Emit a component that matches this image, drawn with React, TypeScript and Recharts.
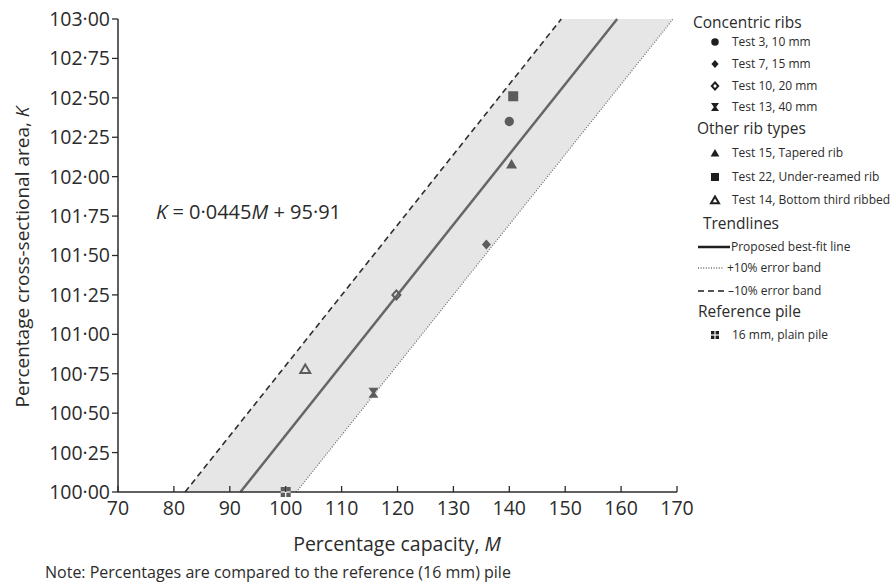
import React from "react";
import { Area, ComposedChart, Line, Scatter, XAxis, YAxis } from "recharts";

const FONT = "'Open Sans', 'Noto Sans', sans-serif";
const INK = "#2b2b2b";
const MARK = "#5c5c5c";

const xTicks = [70, 80, 90, 100, 110, 120, 130, 140, 150, 160, 170];
const yTicks = [100, 100.25, 100.5, 100.75, 101, 101.25, 101.5, 101.75, 102, 102.25, 102.5, 102.75, 103];

// shaded error band, corners
const bandM = [82, 101.9, 149.3, 169.3];
const bandLow = [100, 100, 102.11, 103];
const bandHigh = [100, 100.89, 103, 103];

// trendline end points (M, K)
const bestFit = [{ M: 91.9, K: 100 }, { M: 159.3, K: 103 }];
const minusBand = [{ M: 82, K: 100 }, { M: 149.3, K: 103 }];
const plusBand = [{ M: 101.9, K: 100 }, { M: 169.3, K: 103 }];

// test results
const test3 = [{ M: 140.0, K: 102.35 }];
const test7 = [{ M: 135.9, K: 101.57 }];
const test10 = [{ M: 119.8, K: 101.25 }];
const test13 = [{ M: 115.7, K: 100.63 }];
const test15 = [{ M: 140.4, K: 102.08 }];
const test22 = [{ M: 140.7, K: 102.51 }];
const test14 = [{ M: 103.5, K: 100.78 }];
const refPile = [{ M: 100, K: 100 }];

const bandData = bandM.map((M, i) => ({ M, band: [bandLow[i], bandHigh[i]] }));

type Kind = "circle" | "diamond" | "openDiamond" | "hourglass" | "triangle" | "square" | "openTriangle" | "plusSquare";

function Marker({ kind, cx, cy, color = MARK, s = 1 }: { kind: Kind; cx: number; cy: number; color?: string; s?: number }) {
  switch (kind) {
    case "circle":
      return <circle cx={cx} cy={cy} r={4.7 * s} fill={color} />;
    case "diamond":
      return <path d={`M${cx},${cy - 5 * s}L${cx + 4.5 * s},${cy}L${cx},${cy + 5 * s}L${cx - 4.5 * s},${cy}Z`} fill={color} />;
    case "openDiamond":
      return <path d={`M${cx},${cy - 4.5 * s}L${cx + 4 * s},${cy}L${cx},${cy + 4.5 * s}L${cx - 4 * s},${cy}Z`} fill="none" stroke={color} strokeWidth={2} />;
    case "hourglass":
      return (
        <path
          d={`M${cx - 5 * s},${cy - 5 * s}H${cx + 5 * s}L${cx + 1.5 * s},${cy}L${cx + 5 * s},${cy + 5 * s}H${cx - 5 * s}L${cx - 1.5 * s},${cy}Z`}
          fill={color}
        />
      );
    case "triangle":
      return <path d={`M${cx},${cy - 5 * s}L${cx + 5.5 * s},${cy + 4.5 * s}L${cx - 5.5 * s},${cy + 4.5 * s}Z`} fill={color} />;
    case "openTriangle":
      return <path d={`M${cx},${cy - 4.5 * s}L${cx + 5 * s},${cy + 4 * s}L${cx - 5 * s},${cy + 4 * s}Z`} fill="none" stroke={color} strokeWidth={2} />;
    case "square":
      return <rect x={cx - 5 * s} y={cy - 5 * s} width={10 * s} height={10 * s} fill={color} />;
    case "plusSquare":
      return (
        <g>
          <rect x={cx - 5 * s} y={cy - 5 * s} width={10 * s} height={10 * s} fill={color} />
          <line x1={cx} x2={cx} y1={cy - 5 * s} y2={cy + 5 * s} stroke="#fff" strokeWidth={1.2} />
          <line x1={cx - 5 * s} x2={cx + 5 * s} y1={cy} y2={cy} stroke="#fff" strokeWidth={1.2} />
        </g>
      );
  }
  return null;
}

const shapeOf = (kind: Kind) => (p: any) => <Marker kind={kind} cx={p.cx} cy={p.cy} />;

const XTick = ({ x, y, payload }: any) => (
  <g>
    <line x1={x} x2={x} y1={y} y2={y - 6} stroke={INK} strokeWidth={1.3} />
    <text x={x} y={y + 23} textAnchor="middle" fontSize={19.5} fill={INK} fontFamily={FONT}>
      {payload.value}
    </text>
  </g>
);

const fmtK = (v: number) => v.toFixed(2).replace(".", "·");

const headers = [
  { text: "Concentric ribs", x: 693, y: 28 },
  { text: "Other rib types", x: 697, y: 134 },
  { text: "Trendlines", x: 703, y: 229 },
  { text: "Reference pile", x: 698, y: 317 },
];

const markerItems: { text: string; kind: Kind; y: number }[] = [
  { text: "Test 3, 10 mm", kind: "circle", y: 42 },
  { text: "Test 7, 15 mm", kind: "diamond", y: 64 },
  { text: "Test 10, 20 mm", kind: "openDiamond", y: 86 },
  { text: "Test 13, 40 mm", kind: "hourglass", y: 107 },
  { text: "Test 15, Tapered rib", kind: "triangle", y: 153 },
  { text: "Test 22, Under-reamed rib", kind: "square", y: 177 },
  { text: "Test 14, Bottom third ribbed", kind: "openTriangle", y: 200 },
  { text: "16 mm, plain pile", kind: "plusSquare", y: 335 },
];

const lineItems = [
  { text: "Proposed best-fit line", y: 247, x2: 730, tx: 731, dash: undefined as string | undefined, w: 2.5 },
  { text: "+10% error band", y: 268, x2: 723, tx: 727, dash: "1 1.6", w: 1.2 },
  { text: "–10% error band", y: 291, x2: 727, tx: 728, dash: "6 4", w: 1.6 },
];

export default function App() {
  return (
    <div style={{ position: "absolute", left: 0, top: 0, width: 892, height: 586, background: "#fff", fontFamily: FONT }}>
      <ComposedChart width={892} height={586} data={bandData} margin={{ top: 19, right: 215, bottom: 64, left: 0 }}>
        <XAxis
          dataKey="M"
          type="number"
          domain={[70, 170]}
          ticks={xTicks}
          interval={0}
          height={30}
          tickSize={0}
          tickMargin={0}
          tickLine={false}
          axisLine={{ stroke: INK, strokeWidth: 1.5 }}
          tick={<XTick />}
        />
        <YAxis
          type="number"
          domain={[100, 103]}
          ticks={yTicks}
          interval={0}
          width={118}
          tickSize={6}
          tickMargin={2}
          tickFormatter={fmtK}
          tick={{ fill: INK, fontSize: 19.5, fontFamily: FONT }}
          tickLine={{ stroke: INK, strokeWidth: 1.3 }}
          axisLine={{ stroke: INK, strokeWidth: 1.5 }}
        />
        <Area dataKey="band" type="linear" fill="#e6e6e7" fillOpacity={1} stroke="none" dot={false} activeDot={false} isAnimationActive={false} />
        <Line data={minusBand} dataKey="K" type="linear" stroke="#2e2e2e" strokeWidth={1.6} strokeDasharray="6 4" dot={false} activeDot={false} isAnimationActive={false} />
        <Line data={plusBand} dataKey="K" type="linear" stroke="#6a6a6a" strokeWidth={1.2} strokeDasharray="1 1.6" dot={false} activeDot={false} isAnimationActive={false} />
        <Line data={bestFit} dataKey="K" type="linear" stroke="#666" strokeWidth={2.5} dot={false} activeDot={false} isAnimationActive={false} />
        <Scatter data={test3} dataKey="K" shape={shapeOf("circle")} isAnimationActive={false} />
        <Scatter data={test7} dataKey="K" shape={shapeOf("diamond")} isAnimationActive={false} />
        <Scatter data={test10} dataKey="K" shape={shapeOf("openDiamond")} isAnimationActive={false} />
        <Scatter data={test13} dataKey="K" shape={shapeOf("hourglass")} isAnimationActive={false} />
        <Scatter data={test15} dataKey="K" shape={shapeOf("triangle")} isAnimationActive={false} />
        <Scatter data={test22} dataKey="K" shape={shapeOf("square")} isAnimationActive={false} />
        <Scatter data={test14} dataKey="K" shape={shapeOf("openTriangle")} isAnimationActive={false} />
        <Scatter data={refPile} dataKey="K" shape={shapeOf("plusSquare")} isAnimationActive={false} />
      </ComposedChart>

      <svg width={892} height={586} style={{ position: "absolute", left: 0, top: 0, pointerEvents: "none" }} fontFamily={FONT}>
        <text transform="translate(29, 257) rotate(-90)" textAnchor="middle" fontSize={19} fill={INK}>
          Percentage cross-sectional area, <tspan fontStyle="italic">K</tspan>
        </text>
        <text x={397} y={551} textAnchor="middle" fontSize={19.5} fill={INK}>
          Percentage capacity, <tspan fontStyle="italic">M</tspan>
        </text>
        <text x={45} y={578} fontSize={16} fill={INK}>
          Note: Percentages are compared to the reference (16 mm) pile
        </text>
        <text x={156} y={219} fontSize={20} fill={INK}>
          <tspan fontStyle="italic">K</tspan> = 0·0445<tspan fontStyle="italic">M</tspan> + 95·91
        </text>

        {headers.map((h) => (
          <text key={h.text} x={h.x} y={h.y} fontSize={15.5} fill={INK}>
            {h.text}
          </text>
        ))}
        {markerItems.map((m) => (
          <g key={m.text}>
            <Marker kind={m.kind} cx={715} cy={m.y} color="#1e1e1e" s={0.8} />
            <text x={732} y={m.y + 4} fontSize={12} fill={INK}>
              {m.text}
            </text>
          </g>
        ))}
        {lineItems.map((l) => (
          <g key={l.text}>
            <line x1={698} x2={l.x2} y1={l.y} y2={l.y} stroke="#1e1e1e" strokeWidth={l.w} strokeDasharray={l.dash} />
            <text x={l.tx} y={l.y + 4} fontSize={12} fill={INK}>
              {l.text}
            </text>
          </g>
        ))}
      </svg>
    </div>
  );
}
